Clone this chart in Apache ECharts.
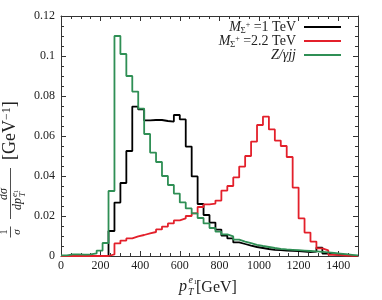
<!DOCTYPE html>
<html>
<head>
<meta charset="utf-8">
<script src="https://cdn.jsdelivr.net/npm/echarts@6/dist/echarts.min.js"></script>
<style>html,body{margin:0;padding:0;background:#fff}#c{width:382px;height:300px}</style>
</head>
<body>
<div id="c"></div>
<script>
// bin edges (GeV)
const binEdges = [0,30,60,90,120,150,180,210,240,270,300,330,360,390,420,450,480,510,540,570,600,630,660,690,720,750,780,810,840,870,900,930,960,990,1020,1050,1080,1110,1140,1170,1200,1230,1260,1290,1320,1350,1380,1410,1440,1470,1500];
const seriesNames = ['M1', 'M22', 'Z'];
// M_Sigma+ = 1 TeV
const valsM1 = [0,0,0,0,0,0,0,0.0001,0.0125,0.0267,0.0365,0.0525,0.0747,0.0733,0.0678,0.0680,0.0680,0.0675,0.0672,0.0705,0.0683,0.0547,0.0398,0.0260,0.0205,0.0167,0.0132,0.0102,0.0088,0.0068,0.0060,0.0052,0.0045,0.0040,0.0035,0.0031,0.0029,0.0027,0.0026,0.0024,0.0022,0.0020,0.0022,0.0042,0.0012,0.0008,0.0006,0.0004,0.0002,0.0001];
// M_Sigma+ = 2.2 TeV
const valsM22 = [0,0,0,0,0,0,0,0,0.0008,0.0063,0.0077,0.0088,0.0098,0.0105,0.0113,0.0120,0.0133,0.0147,0.0163,0.0178,0.0188,0.0200,0.0213,0.0245,0.0258,0.0262,0.0277,0.0327,0.0350,0.0393,0.0447,0.0500,0.0572,0.0655,0.0697,0.0633,0.0577,0.0550,0.0495,0.0342,0.0188,0.0117,0.0072,0.0038,0.0028,0.0006,0.0004,0.0002,0.0001,0.0001];
// Z/gamma jj
const valsZ = [0.0003,0.0008,0.0008,0.0007,0.0008,0.0013,0.0027,0.0065,0.0325,0.1100,0.1010,0.0900,0.0822,0.0737,0.0610,0.0517,0.0470,0.0400,0.0355,0.0312,0.0268,0.0238,0.0213,0.0190,0.0163,0.0140,0.0122,0.0108,0.0098,0.0082,0.0072,0.0064,0.0056,0.0050,0.0045,0.0040,0.0036,0.0033,0.0031,0.0029,0.0027,0.0025,0.0023,0.0021,0.0018,0.0015,0.0012,0.0009,0.0006,0.0003];
// legend label parts
const legendMain = {M1: ' =1 TeV', M22: ' =2.2 TeV'};
const legendPlain = {Z: 'Z/γjj'};

const SERIF = 'Liberation Serif';
const TXT = '#222';
const AX = '#333';
const colors = {M1: '#000000', M22: '#e3202b', Z: '#2f8f55'};

function toSteps(vals) {
  const pts = vals.map((v, i) => [binEdges[i], v]);
  pts.push([binEdges[binEdges.length - 1], vals[vals.length - 1]]);
  return pts;
}
const mctx = document.createElement('canvas').getContext('2d');
function tw(text, font) { mctx.font = font; return mctx.measureText(text).width; }

const chart = echarts.init(document.getElementById('c'), null, {renderer: 'canvas'});

function xAx(grid, pos, interval, major) {
  return {
    type: 'value', gridIndex: grid, position: pos, min: 0, max: 1500, interval: interval,
    axisLine: {show: major, onZero: false, lineStyle: {color: AX, width: 1}},
    axisTick: {show: true, inside: true, length: major ? 5 : 3, lineStyle: {color: AX, width: 1}},
    axisLabel: {show: grid === 0 && pos === 'bottom', showMaxLabel: false, margin: 4,
      fontFamily: SERIF, fontSize: 12, color: TXT, formatter: v => String(v)},
    splitLine: {show: false}
  };
}
function yAx(grid, pos, interval, major) {
  return {
    type: 'value', gridIndex: grid, position: pos, min: 0, max: 0.12, interval: interval,
    axisLine: {show: major, onZero: false, lineStyle: {color: AX, width: 1}},
    axisTick: {show: true, inside: true, length: major ? 5 : 3, lineStyle: {color: AX, width: 1}},
    axisLabel: {show: grid === 0 && pos === 'left', margin: 6,
      fontFamily: SERIF, fontSize: 12, color: TXT},
    splitLine: {show: false}
  };
}

const seriesVals = {M1: valsM1, M22: valsM22, Z: valsZ};

function T(x, y, text, font, align, valign) {
  return {type: 'text', x: x, y: y, z: 100, style: {text: text, font: font, fill: TXT,
    align: align, verticalAlign: valign, textAlign: align, textVerticalAlign: valign}};
}

const fB = '18px ' + SERIF, fS = '12px ' + SERIF;
const wGeV = tw('[GeV', fB), wM1 = tw('−1', fS);
const yLabelChildren = [
  T(8, -1, '1', '10px ' + SERIF, 'center', 'bottom'),
  {type: 'line', shape: {x1: 2.5, y1: 0, x2: 13.5, y2: 0}, style: {stroke: TXT, lineWidth: 0.8}},
  T(8, 1, 'σ', 'italic 11px ' + SERIF, 'center', 'top'),
  T(46, -1, 'dσ', 'italic 12px ' + SERIF, 'center', 'bottom'),
  {type: 'line', shape: {x1: 21, y1: 0, x2: 72, y2: 0}, style: {stroke: TXT, lineWidth: 0.8}},
  T(30, 1, 'dp', 'italic 12px ' + SERIF, 'left', 'top'),
  T(43, 0, 'e', 'italic 9px ' + SERIF, 'left', 'top'),
  T(47, 2.5, '1', '6px ' + SERIF, 'left', 'top'),
  T(43, 8, 'T', 'italic 9px ' + SERIF, 'left', 'top'),
  T(80, 0, '[GeV', fB, 'left', 'middle'),
  T(80 + wGeV, -4, '−1', fS, 'left', 'middle'),
  T(80 + wGeV + wM1, 0, ']', fB, 'left', 'middle')
];

// legend text built from parts, right-aligned next to legend line icons
const legendRight = 296;
const rowY = {M1: 27, M22: 41, Z: 55};
const legendGraphics = [];
['M1', 'M22'].forEach(n => {
  const fMain = '14px ' + SERIF;
  const y = rowY[n];
  let x = legendRight;
  legendGraphics.push(T(x, y, legendMain[n], fMain, 'right', 'middle'));
  x -= tw(legendMain[n], fMain);
  const fPlus = '8px ' + SERIF;
  x -= tw('+', fPlus);
  legendGraphics.push(T(x, y - 2, '+', fPlus, 'left', 'middle'));
  const fSig = '9px ' + SERIF;
  x -= tw('Σ', fSig);
  legendGraphics.push(T(x, y + 4, 'Σ', fSig, 'left', 'middle'));
  legendGraphics.push(T(x + 0.5, y, 'M', 'italic 14px ' + SERIF, 'right', 'middle'));
});
legendGraphics.push(T(legendRight, rowY.Z, legendPlain.Z, 'italic 14px ' + SERIF, 'right', 'middle'));

const option = {
  animation: false,
  backgroundColor: '#fff',
  grid: [
    {left: 61, right: 24, top: 16, bottom: 44},
    {left: 61, right: 24, top: 16, bottom: 44}
  ],
  xAxis: [xAx(0, 'bottom', 200, true), xAx(0, 'top', 200, true), xAx(1, 'bottom', 50, false), xAx(1, 'top', 50, false)],
  yAxis: [yAx(0, 'left', 0.02, true), yAx(0, 'right', 0.02, true), yAx(1, 'left', 0.005, false), yAx(1, 'right', 0.005, false)],
  legend: {
    orient: 'vertical', right: 41, top: 26, align: 'right', itemGap: 12,
    itemWidth: 37, itemHeight: 2, icon: 'rect', padding: 0,
    data: seriesNames,
    formatter: () => '',
    textStyle: {fontSize: 1}
  },
  series: seriesNames.map(n => ({
    name: n, type: 'line', step: 'end', xAxisIndex: 0, yAxisIndex: 0,
    data: toSteps(seriesVals[n]),
    symbol: 'none', showSymbol: false, color: colors[n],
    lineStyle: {width: 1.8, color: colors[n]},
    emphasis: {disabled: true}
  })),
  graphic: [
    {type: 'group', x: 10.5, y: 240, rotation: Math.PI / 2, z: 100, children: yLabelChildren},
    T(179, 287, 'p', 'italic 16px ' + SERIF, 'left', 'middle'),
    T(188.5, 280, 'e', 'italic 10px ' + SERIF, 'left', 'middle'),
    T(193.5, 282, '1', '7px ' + SERIF, 'left', 'middle'),
    T(188, 292, 'T', 'italic 10px ' + SERIF, 'left', 'middle'),
    T(196, 288, '[GeV]', '16px ' + SERIF, 'left', 'middle')
  ].concat(legendGraphics)
};
chart.setOption(option);
</script>
</body>
</html>
